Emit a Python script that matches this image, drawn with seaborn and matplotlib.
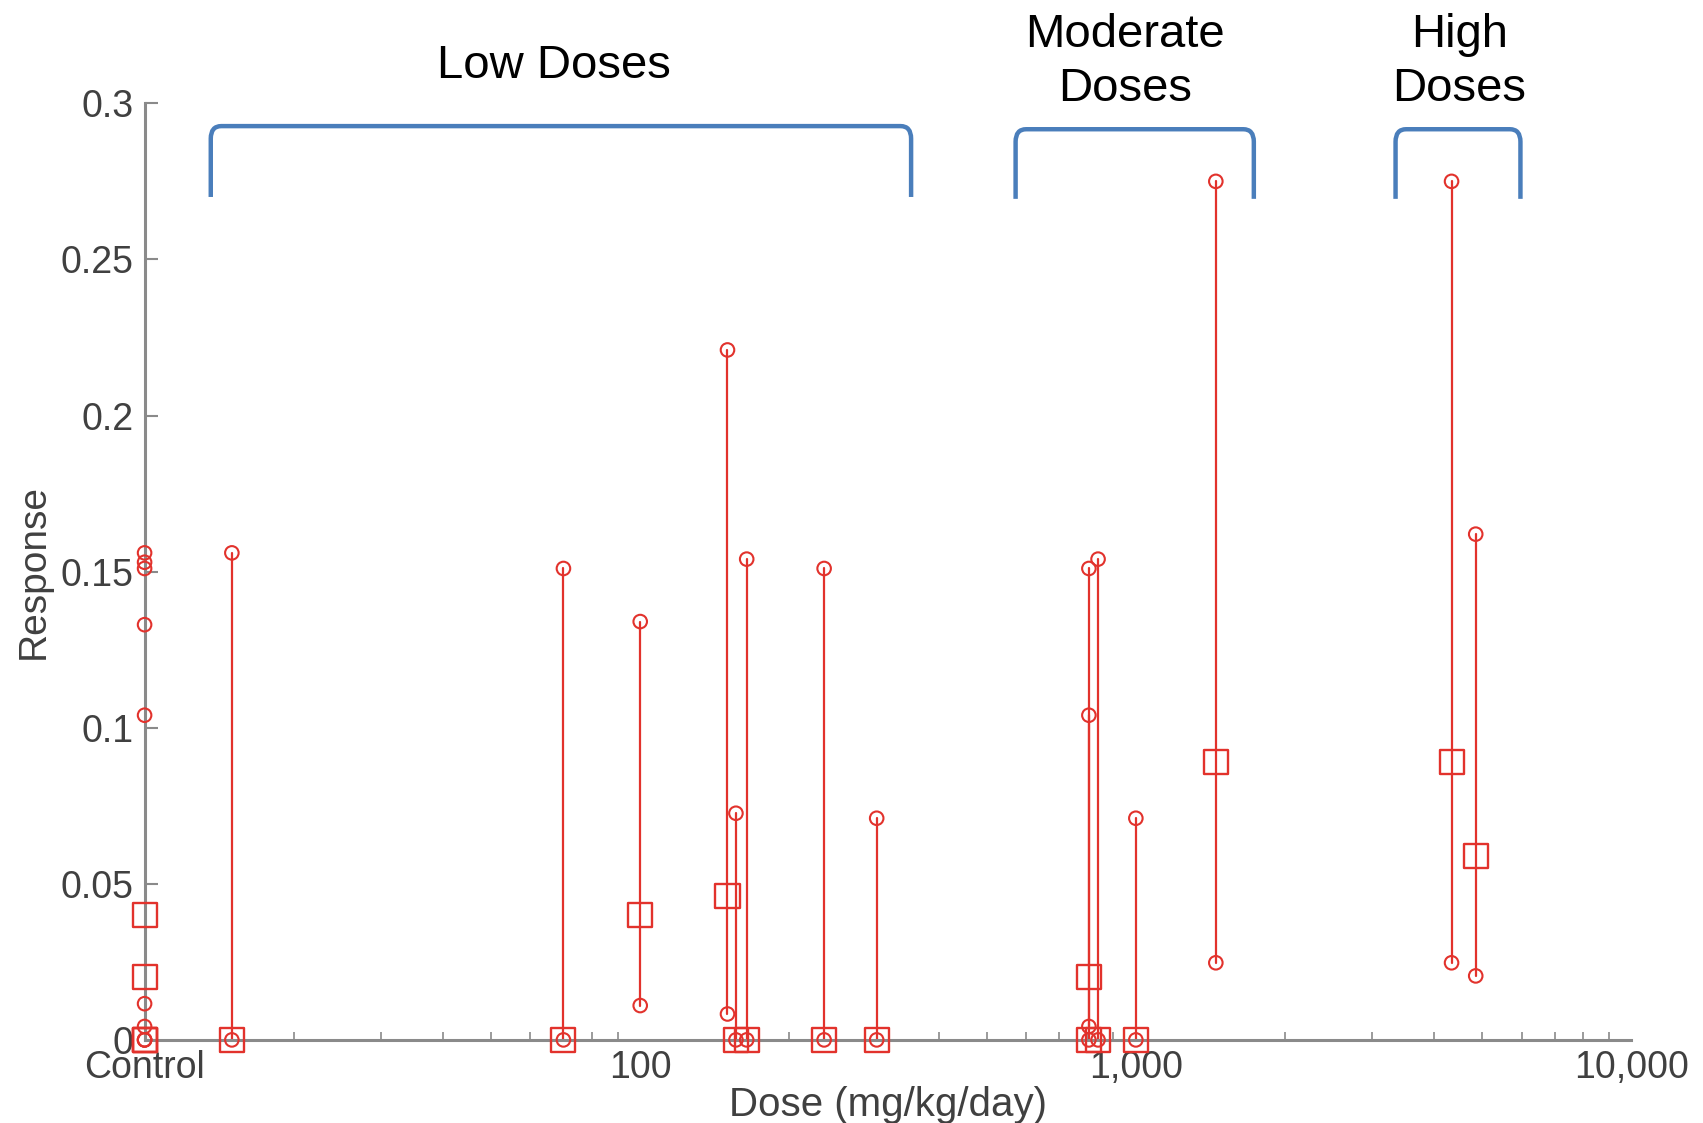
import numpy as np
import pandas as pd
import matplotlib
matplotlib.use("Agg")
import matplotlib.pyplot as plt
from matplotlib.path import Path
from matplotlib.patches import PathPatch
import seaborn as sns

# ---- data ----
doses    = [10, 10, 10, 10, 10, 15, 70, 100, 150, 156, 164, 235, 300,
            804, 804, 839, 1000, 1450, 4335, 4850]
observed = [0.040, 0.020, 0.0, 0.0, 0.0, 0.0, 0.0, 0.040, 0.046, 0.0, 0.0, 0.0, 0.0,
            0.020, 0.0, 0.0, 0.0, 0.089, 0.089, 0.059]
lower    = [0.0116, 0.0043, 0.0, 0.0, 0.0, 0.0, 0.0, 0.011, 0.0083, 0.0, 0.0, 0.0, 0.0,
            0.0043, 0.0, 0.0, 0.0, 0.0247, 0.0247, 0.0205]
upper    = [0.133, 0.104, 0.156, 0.153, 0.151, 0.156, 0.151, 0.134, 0.221, 0.0726, 0.154, 0.151, 0.071,
            0.104, 0.151, 0.154, 0.071, 0.275, 0.275, 0.162]

x_ticks = [10, 100, 1000, 10000]
x_tick_labels = ["Control", "100", "1,000", "10,000"]
y_ticks = [0, 0.05, 0.1, 0.15, 0.2, 0.25, 0.3]
y_tick_labels = ["0", "0.05", "0.1", "0.15", "0.2", "0.25", "0.3"]

group_labels = ["Low Doses", "Moderate\nDoses", "High\nDoses"]
group_ranges = [(13.6, 352), (572, 1730), (3342, 5970)]

# ---- style ----
sns.set_style("white")
plt.rcParams['font.family'] = ['Liberation Sans', 'DejaVu Sans']

RED = "#e2322c"
BLUE = "#4a7ebb"
GREY = "#8a8a8a"
TXT = "#404040"

fig = plt.figure(figsize=(17.03, 11.23), dpi=100)
ax = fig.add_axes([0.0849, 0.074, 0.958 - 0.0849, 0.908 - 0.074])

gid = np.arange(len(doses))
lines_df = pd.DataFrame({
    "dose": np.concatenate([doses, doses]),
    "resp": np.concatenate([lower, upper]),
    "gid": np.concatenate([gid, gid]),
})
sns.lineplot(data=lines_df, x="dose", y="resp", units="gid", estimator=None,
             sort=False, color=RED, lw=1.6, ax=ax, legend=False)

circ_df = pd.DataFrame({"dose": doses + doses, "resp": lower + upper})
sq_df = pd.DataFrame({"dose": doses, "resp": observed})

sns.scatterplot(data=circ_df, x="dose", y="resp", marker="o", s=95,
                facecolors="none", edgecolor=RED, linewidth=1.5, ax=ax,
                clip_on=False, zorder=4)
sns.scatterplot(data=sq_df, x="dose", y="resp", marker="s", s=300,
                facecolors="none", edgecolor=RED, linewidth=1.7, ax=ax,
                clip_on=False, zorder=5)

ax.set_xscale("log")
ax.set_xlim(10, 10000)
ax.set_ylim(0, 0.3)

ax.set_xticks(x_ticks)
ax.set_xticklabels(x_tick_labels)
ax.xaxis.set_minor_locator(matplotlib.ticker.LogLocator(base=10, subs=np.arange(2, 10)))
ax.xaxis.set_minor_formatter(matplotlib.ticker.NullFormatter())
ax.set_yticks(y_ticks)
ax.set_yticklabels(y_tick_labels)

ax.tick_params(axis="x", which="major", direction="in", length=10, width=1.5,
               colors=GREY, labelcolor=TXT, labelsize=27, pad=7)
ax.tick_params(axis="x", which="minor", direction="in", length=6, width=1.2,
               colors=GREY, bottom=True)
ax.tick_params(axis="y", which="major", direction="in", length=9, width=1.5,
               colors=GREY, labelcolor=TXT, labelsize=27, pad=8, left=True)

for side in ["top", "right"]:
    ax.spines[side].set_visible(False)
for side in ["left", "bottom"]:
    ax.spines[side].set_color(GREY)
    ax.spines[side].set_linewidth(2.2)

ax.set_xlabel("Dose (mg/kg/day)", fontsize=29, color=TXT, labelpad=0)
ax.set_ylabel("Response", fontsize=28, color=TXT, labelpad=6)

# ---- bracket annotations ----
def bracket(x0, x1, ytop, ybot):
    fx = 1.05   # corner rounding in log-x
    dy = 0.004
    verts = [(x0, ybot), (x0, ytop - dy), (x0, ytop), (x0 * fx, ytop),
             (x1 / fx, ytop), (x1, ytop), (x1, ytop - dy), (x1, ybot)]
    codes = [Path.MOVETO, Path.LINETO, Path.CURVE3, Path.CURVE3,
             Path.LINETO, Path.CURVE3, Path.CURVE3, Path.LINETO]
    p = PathPatch(Path(verts, codes), fill=False, edgecolor=BLUE, lw=3.2,
                  transform=ax.transData, clip_on=False, capstyle="butt",
                  joinstyle="round", zorder=6)
    ax.add_patch(p)

bracket(group_ranges[0][0], group_ranges[0][1], 0.2927, 0.2700)
bracket(group_ranges[1][0], group_ranges[1][1], 0.2917, 0.2694)
bracket(group_ranges[2][0], group_ranges[2][1], 0.2917, 0.2694)

ax.text(np.sqrt(group_ranges[0][0] * group_ranges[0][1]) * 0.97, 0.3118, group_labels[0],
        ha="center", va="center", fontsize=34, color="black", clip_on=False)
ax.text(950, 0.3132, group_labels[1], ha="center", va="center", fontsize=34,
        color="black", clip_on=False, linespacing=1.3)
ax.text(4500, 0.3132, group_labels[2], ha="center", va="center", fontsize=34,
        color="black", clip_on=False, linespacing=1.3)

fig.savefig("out.png", dpi=100)
